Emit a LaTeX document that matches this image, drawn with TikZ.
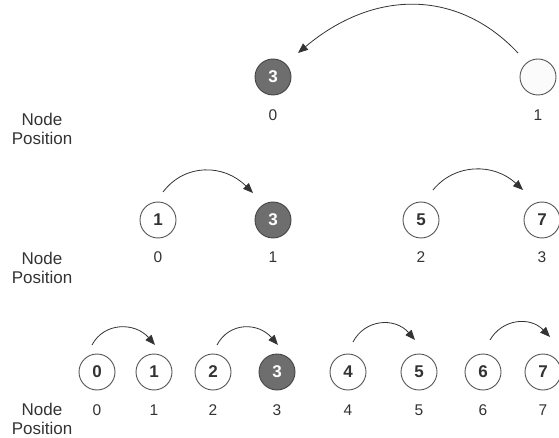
\documentclass[tikz,border=0pt]{standalone}
\usepackage{fontspec}
\setmainfont{Liberation Sans}
\usetikzlibrary{arrows.meta}
\definecolor{ink}{HTML}{333333}
\definecolor{ring}{HTML}{555555}
\definecolor{dark}{HTML}{6E6E6E}
\tikzset{
  nd/.style={circle, draw=ring, line width=0.9pt, fill=white, minimum size=36pt, inner sep=0pt, text=ink, font=\fontsize{17}{17}\selectfont\bfseries},
  hot/.style={nd, fill=dark, draw=ring!80!black, text=white},
  blank/.style={nd, fill=white!97!gray},
  lab/.style={inner sep=0pt, text=ink, font=\fontsize{15.5}{15.5}\selectfont},
  side/.style={inner sep=0pt, text=ink, align=center, font=\fontsize{17}{19}\selectfont},
  arr/.style={draw=ink, line width=0.8pt, -{Triangle[length=10pt,width=8pt]}}
}
\begin{document}
\begin{tikzpicture}[x=1pt,y=-1pt]
\useasboundingbox (0,0) rectangle (559,438);
% top row
\node[hot] (t0) at (273,77) {3};
\node[blank] (t1) at (538,77) {};
\node[lab] (tl0) at (273,115) {0};
\node[lab] (tl1) at (538,115) {1};
\node[side] (ts) at (42,128.5) {Node\\Position};
\draw[arr] ([shift={(-20,-24)}]t1.center) .. controls +(-60,-64) and +(76,-64) .. ([shift={(25,-24)}]t0.center);
% middle row
\node[nd] (m0) at (158,220) {1};
\node[hot] (m1) at (273,220) {3};
\node[nd] (m2) at (421,220) {5};
\node[nd] (m3) at (542,220) {7};
\node[lab] (ml0) at (158,257) {0};
\node[lab] (ml1) at (273,257) {1};
\node[lab] (ml2) at (421,257) {2};
\node[lab] (ml3) at (542,257) {3};
\node[side] (ms) at (42,267.5) {Node\\Position};
\draw[arr] ([shift={(5,-28)}]m0.center) .. controls +(22,-29) and +(-29,-29) .. ([shift={(-20,-27)}]m1.center);
\draw[arr] ([shift={(12,-30)}]m2.center) .. controls +(22,-27) and +(-29,-27) .. ([shift={(-19,-30)}]m3.center);
% bottom row
\node[nd] (b0) at (97,372) {0};
\node[nd] (b1) at (154,372) {1};
\node[nd] (b2) at (213,372) {2};
\node[hot] (b3) at (277,372) {3};
\node[nd] (b4) at (348,372) {4};
\node[nd] (b5) at (419,372) {5};
\node[nd] (b6) at (483,372) {6};
\node[nd] (b7) at (543,372) {7};
\foreach \n/\x in {0/97,1/154,2/213,3/277,4/348,5/419,6/483,7/543}{
  \node[lab] (bl\n) at (\x,410) {\n};
}
\node[side] (bs) at (42,419) {Node\\Position};
\draw[arr] ([shift={(-5,-27)}]b0.center) .. controls +(12,-23) and +(-20,-23) .. ([shift={(1,-27)}]b1.center);
\draw[arr] ([shift={(4,-27)}]b2.center) .. controls +(12,-23) and +(-20,-23) .. ([shift={(1,-27)}]b3.center);
\draw[arr] ([shift={(5,-30)}]b4.center) .. controls +(12,-23) and +(-20,-23) .. ([shift={(-4,-32)}]b5.center);
\draw[arr] ([shift={(7,-32)}]b6.center) .. controls +(12,-21) and +(-20,-21) .. ([shift={(7,-35)}]b7.center);
\end{tikzpicture}
\end{document}
